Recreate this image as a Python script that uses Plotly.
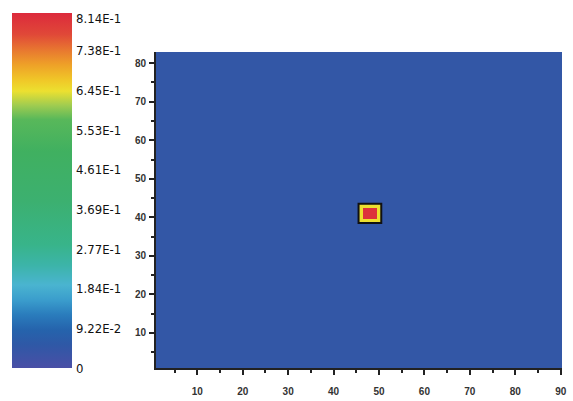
import plotly.graph_objects as go

# ---- data ----
x_cells = list(range(1, 91))
y_cells = list(range(1, 84))
background_value = 0.045
hot_x = [46, 47, 48, 49, 50]
hot_y = [39, 40, 41, 42, 43]
hot_values = [
    [0.645, 0.645, 0.645, 0.645, 0.645],
    [0.645, 0.814, 0.814, 0.814, 0.645],
    [0.645, 0.814, 0.814, 0.814, 0.645],
    [0.645, 0.814, 0.814, 0.814, 0.645],
    [0.645, 0.645, 0.645, 0.645, 0.645],
]
cbar_tickvals = [0, 0.0922, 0.184, 0.277, 0.369, 0.461, 0.553, 0.645, 0.738, 0.814]
cbar_ticktext = ["0", "9.22E-2", "1.84E-1", "2.77E-1", "3.69E-1", "4.61E-1",
                 "5.53E-1", "6.45E-1", "7.38E-1", "8.14E-1"]
x_ticks = [10, 20, 30, 40, 50, 60, 70, 80, 90]
y_ticks = [10, 20, 30, 40, 50, 60, 70, 80]

# build grid
z = [[background_value for _ in x_cells] for _ in y_cells]
for j, yy in enumerate(hot_y):
    for i, xx in enumerate(hot_x):
        z[y_cells.index(yy)][x_cells.index(xx)] = hot_values[j][i]

zmax = 0.826
colorscale = [
    [0.0, "#4a4fa6"],
    [0.065, "#2f58a6"],
    [0.107, "#2563ac"],
    [0.15, "#2a7cbc"],
    [0.19, "#3a9ccc"],
    [0.234, "#4ab4d0"],
    [0.29, "#3cb4a8"],
    [0.347, "#38b48a"],
    [0.47, "#3cb070"],
    [0.61, "#40b060"],
    [0.70, "#58b85a"],
    [0.74, "#a0cc50"],
    [0.78, "#ece030"],
    [0.81, "#f0c828"],
    [0.855, "#eea028"],
    [0.895, "#e87830"],
    [0.94, "#e04838"],
    [1.0, "#dc2a3c"],
]

W, H = 573, 401
ML = 152  # fixed left margin (covers the colorbar's own margin push)
PW = W - ML
fig = go.Figure()
fig.add_trace(go.Heatmap(
    x=x_cells, y=y_cells, z=z,
    zmin=0, zmax=zmax,
    colorscale=colorscale,
    colorbar=dict(
        xref="container", x=12 / W, xanchor="left",
        yref="container", y=1 - 13 / H, yanchor="top",
        thickness=60, thicknessmode="pixels",
        len=355, lenmode="pixels",
        xpad=0, ypad=0,
        outlinewidth=0,
        tickvals=cbar_tickvals, ticktext=cbar_ticktext,
        ticks="outside", ticklen=2, tickcolor="rgba(0,0,0,0)",
        tickfont=dict(family="DejaVu Sans Condensed, Liberation Sans", size=13, color="#111"),
    ),
    hoverinfo="skip",
))

# outline around hotspot, derived from hotspot cells
fig.add_shape(type="rect", xref="x", yref="y",
              x0=min(hot_x) - 0.5, x1=max(hot_x) + 0.5,
              y0=min(hot_y) - 0.5, y1=max(hot_y) + 0.5,
              line=dict(color="#111", width=2))

tickfont = dict(family="Liberation Sans", size=10, color="#333", weight="bold")
fig.update_layout(
    width=W, height=H,
    margin=dict(l=ML, r=0, t=0, b=0),
    paper_bgcolor="white", plot_bgcolor="white",
    xaxis=dict(domain=[(156 - ML) / PW, (567 - ML) / PW], range=[0.9, 90.3],
               tickvals=x_ticks, ticks="outside", ticklen=5, tickwidth=1.5, tickcolor="#222",
               showline=True, linecolor="#222", linewidth=1.5, showgrid=False, zeroline=False,
               minor=dict(dtick=5, tick0=0, ticks="outside", ticklen=3, tickcolor="#222", showgrid=False),
               tickfont=tickfont, ticklabelstandoff=8),
    yaxis=dict(domain=[(H - 368) / H, (H - 52) / H], range=[0.9, 82.9],
               tickvals=y_ticks, ticks="outside", ticklen=5, tickwidth=1.5, tickcolor="#222",
               showline=True, linecolor="#222", linewidth=1.5, showgrid=False, zeroline=False,
               minor=dict(dtick=5, tick0=0, ticks="outside", ticklen=3, tickcolor="#222", showgrid=False),
               tickfont=tickfont, ticklabelstandoff=1),
)

fig.write_html("out.html")
